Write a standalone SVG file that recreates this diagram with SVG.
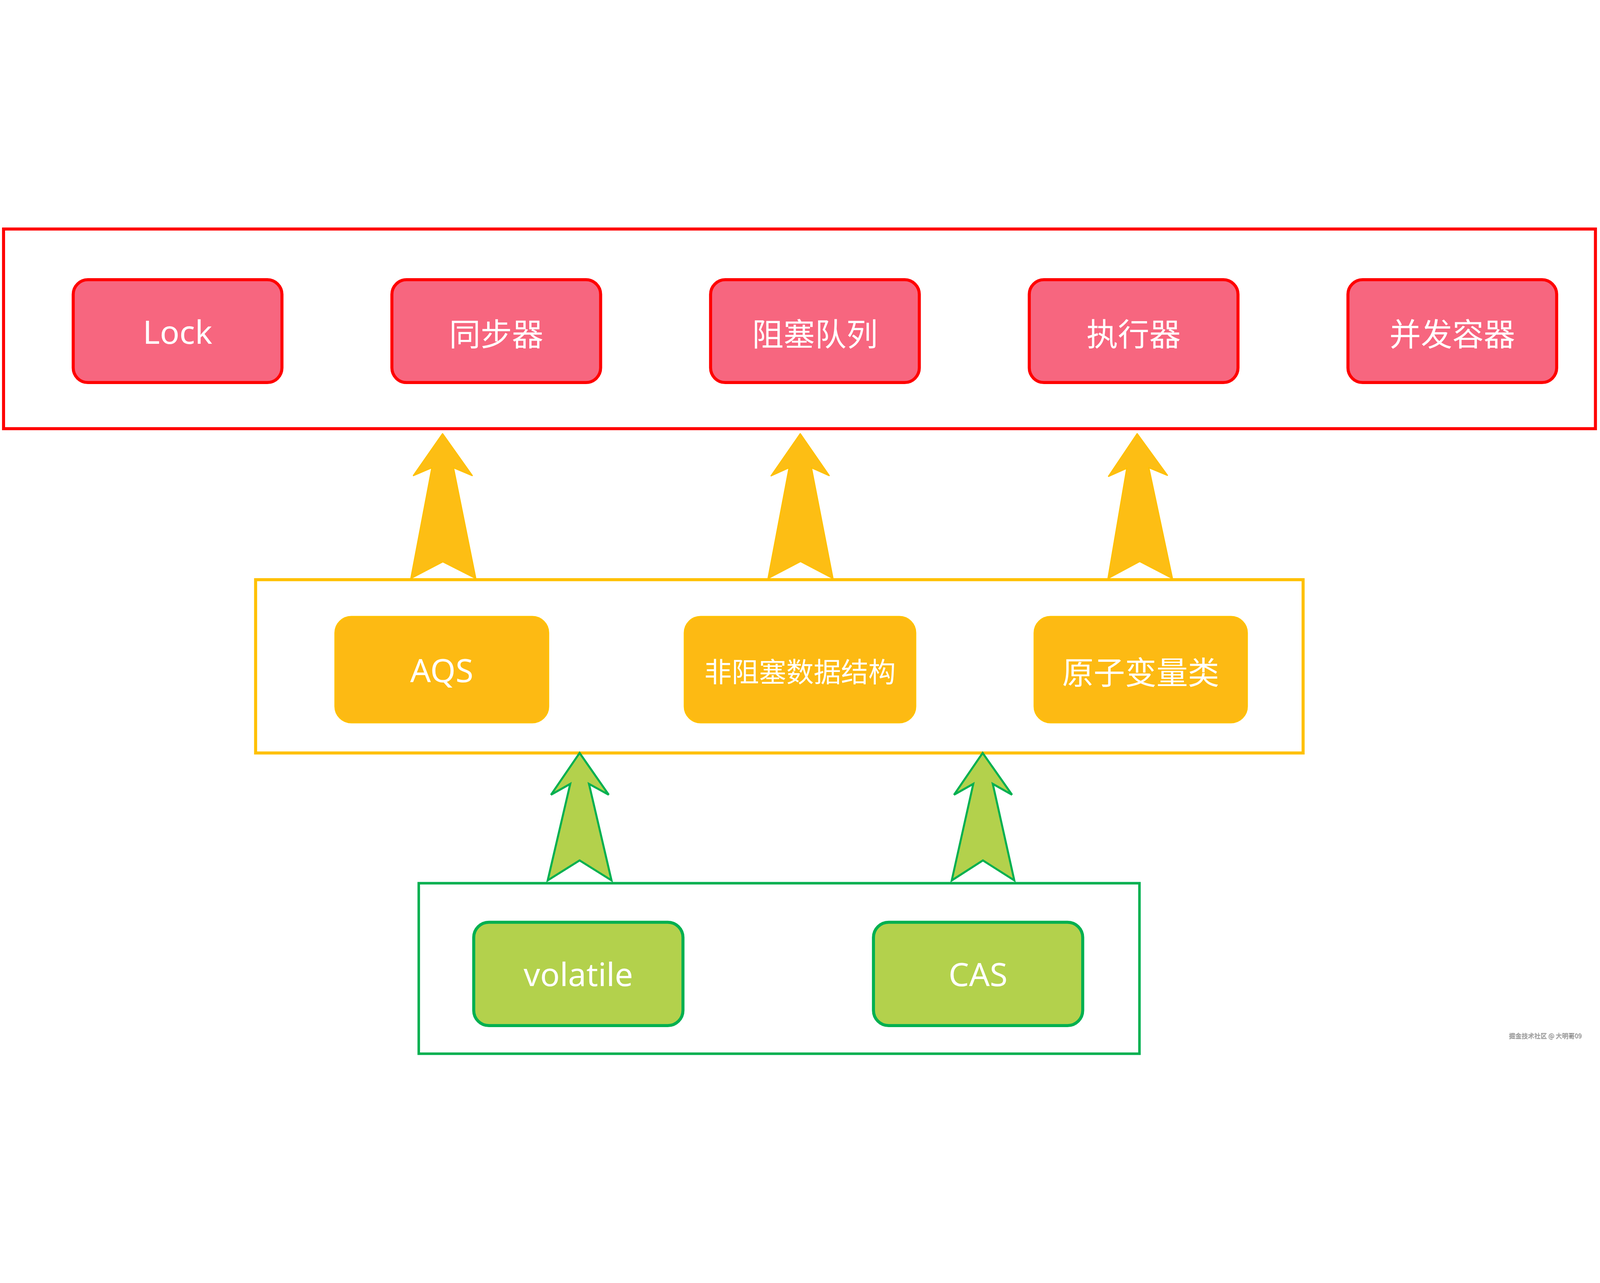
<svg xmlns="http://www.w3.org/2000/svg" width="6316" height="3284" viewBox="0 0 6316 3284" preserveAspectRatio="xMidYMid meet">
<defs>
<style>
svg{width:100%;height:100%;}
.red-frame{fill:none;stroke:#FF0000;stroke-width:12;}
.yel-frame{fill:none;stroke:#FFC000;stroke-width:12;}
.grn-frame{fill:none;stroke:#00B050;stroke-width:10;}
.pink{fill:#F7667F;stroke:#FF0000;stroke-width:12;}
.yel{fill:#FDBA13;stroke:#FFC000;stroke-width:6;}
.grn{fill:#B3D14C;stroke:#00B050;stroke-width:12;}
.lbl{font-family:"Noto Sans","Noto Sans CJK SC",sans-serif;font-size:128px;fill:#FFFFFF;text-anchor:middle;dominant-baseline:central;}
.cjk{font-family:"Noto Sans CJK SC","Noto Sans",sans-serif;font-size:124px;fill:#FFFFFF;text-anchor:middle;dominant-baseline:central;}
.arr-y{fill:#FDBE14;stroke:#FFC000;stroke-width:5;stroke-linejoin:round;}
.arr-g{fill:#B3D14C;stroke:#00B050;stroke-width:8;stroke-linejoin:miter;}
.wm{font-family:"Noto Sans CJK SC","Noto Sans",sans-serif;font-size:25px;fill:#A8A8A8;}
</style>
<filter id="wmshadow" x="-5%" y="-20%" width="110%" height="150%">
<feDropShadow dx="1" dy="1.5" stdDeviation="0.6" flood-color="#555555" flood-opacity="0.8"/>
</filter>
</defs>
<rect x="0" y="0" width="6316" height="3284" fill="#FFFFFF"/>

<g id="layer-top">
<rect class="red-frame" x="14" y="14" width="6284" height="788"/>
</g>
<g id="layer-mid">
<rect class="yel-frame" x="1009" y="1398" width="4135" height="684"/>
</g>
<g id="layer-bottom">
<rect class="grn-frame" x="1653" y="2596" width="2845" height="673"/>
</g>

<g id="node-lock">
<rect class="pink" x="289" y="214" width="824" height="406" rx="58" ry="58"/>
<text class="lbl" x="701" y="417">Lock</text>
</g>
<g id="node-sync">
<rect class="pink" x="1547" y="214" width="824" height="406" rx="58" ry="58"/>
<text class="cjk" x="1959" y="420">同步器</text>
</g>
<g id="node-blocking-queue">
<rect class="pink" x="2805" y="214" width="824" height="406" rx="58" ry="58"/>
<text class="cjk" x="3217" y="420">阻塞队列</text>
</g>
<g id="node-executor">
<rect class="pink" x="4063" y="214" width="824" height="406" rx="58" ry="58"/>
<text class="cjk" x="4475" y="420">执行器</text>
</g>
<g id="node-concurrent-containers">
<rect class="pink" x="5321" y="214" width="824" height="406" rx="58" ry="58"/>
<text class="cjk" x="5733" y="420">并发容器</text>
</g>

<g id="node-aqs">
<rect class="yel" x="1323" y="1544" width="842" height="418" rx="64" ry="64"/>
<text class="lbl" x="1744" y="1753">AQS</text>
</g>
<g id="node-nonblocking">
<rect class="yel" x="2702" y="1544" width="912" height="418" rx="64" ry="64"/>
<text class="cjk" x="3158" y="1756" style="font-size:108px">非阻塞数据结构</text>
</g>
<g id="node-atomic">
<rect class="yel" x="4083" y="1544" width="840" height="418" rx="64" ry="64"/>
<text class="cjk" x="4503" y="1756">原子变量类</text>
</g>

<g id="node-volatile">
<rect class="grn" x="1870" y="2750" width="826" height="408" rx="60" ry="60"/>
<text class="lbl" x="2283" y="2952">volatile</text>
</g>
<g id="node-cas">
<rect class="grn" x="3448" y="2750" width="826" height="408" rx="60" ry="60"/>
<text class="lbl" x="3861" y="2952">CAS</text>
</g>

<g id="connectors">
<polygon class="arr-y" points="1747,822 1864,987 1790,956 1878,1393 1748,1327 1622,1393 1705,956 1632,987"/>
<polygon class="arr-y" points="3159,822 3273,987 3203,956 3288,1393 3160,1326 3032,1393 3115,956 3044,988"/>
<polygon class="arr-y" points="4489,822 4608,986 4535,956 4628,1393 4499,1326 4374,1393 4448,958 4376,990"/>
<polygon class="arr-g" points="2288,2082 2403,2247 2325,2204 2414,2585 2288,2506 2162,2585 2251,2204 2175,2247"/>
<polygon class="arr-g" points="3879,2082 3995,2247 3919,2204 4004,2585 3880,2506 3757,2585 3842,2204 3766,2247"/>
</g>

<text class="wm" x="5956" y="3207" filter="url(#wmshadow)">掘金技术社区 @ 大明哥09</text>
</svg>
